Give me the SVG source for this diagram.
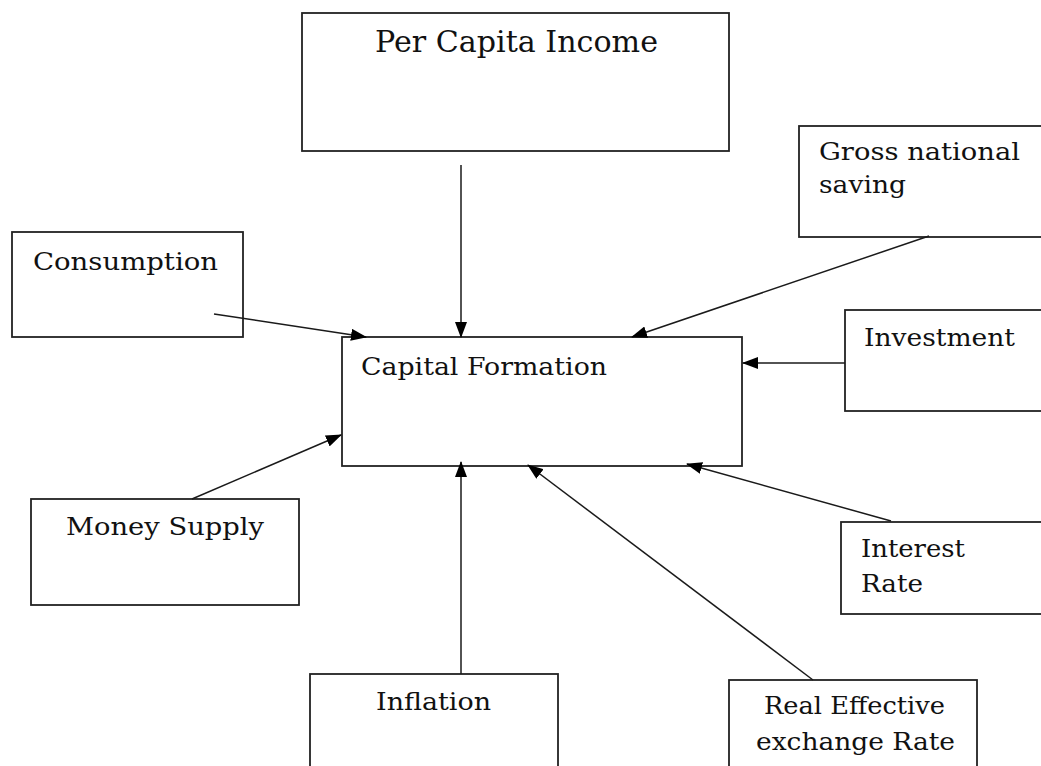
<svg xmlns="http://www.w3.org/2000/svg" width="1041" height="766" viewBox="0 0 1041 766">
<style>
.box{fill:#fff;stroke:#222;stroke-width:1.8}
.t{font-family:"DejaVu Serif","Liberation Serif",serif;font-size:25px;fill:#111}
.big{font-size:30px}
.c{stroke:#1a1a1a;stroke-width:1.5;fill:none;marker-end:url(#ah)}
</style>
<defs>
<marker id="ah" markerUnits="userSpaceOnUse" markerWidth="16" markerHeight="12" refX="15" refY="6" orient="auto">
<path d="M0,0 L16,6 L0,12 Z" fill="#000"/>
</marker>
</defs>
<rect width="1041" height="766" fill="#fff"/>
<g id="per-capita-income">
<rect class="box" x="302" y="13" width="427" height="138"/>
<text class="t big" x="375" y="52" textLength="283" lengthAdjust="spacingAndGlyphs">Per Capita Income</text>
</g>
<g id="consumption">
<rect class="box" x="12" y="232" width="231" height="105"/>
<text class="t" x="33" y="270" textLength="185" lengthAdjust="spacingAndGlyphs">Consumption</text>
</g>
<g id="capital-formation">
<rect class="box" x="342" y="337" width="400" height="129"/>
<text class="t" x="361" y="375" textLength="246" lengthAdjust="spacingAndGlyphs">Capital Formation</text>
</g>
<g id="gross-national-saving">
<rect class="box" x="799" y="126" width="250" height="111"/>
<text class="t" x="819" y="160" textLength="201" lengthAdjust="spacingAndGlyphs">Gross national</text>
<text class="t" x="819" y="193" textLength="87" lengthAdjust="spacingAndGlyphs">saving</text>
</g>
<g id="investment">
<rect class="box" x="845" y="310" width="204" height="101"/>
<text class="t" x="864" y="346" textLength="151" lengthAdjust="spacingAndGlyphs">Investment</text>
</g>
<g id="money-supply">
<rect class="box" x="31" y="499" width="268" height="106"/>
<text class="t" x="66" y="535" textLength="198" lengthAdjust="spacingAndGlyphs">Money Supply</text>
</g>
<g id="interest-rate">
<rect class="box" x="841" y="522" width="208" height="92"/>
<text class="t" x="861" y="557" textLength="104" lengthAdjust="spacingAndGlyphs">Interest</text>
<text class="t" x="861" y="592" textLength="62" lengthAdjust="spacingAndGlyphs">Rate</text>
</g>
<g id="inflation">
<rect class="box" x="310" y="674" width="248" height="100"/>
<text class="t" x="376" y="710" textLength="115" lengthAdjust="spacingAndGlyphs">Inflation</text>
</g>
<g id="real-effective-exchange-rate">
<rect class="box" x="729" y="680" width="248" height="100"/>
<text class="t" x="764" y="714" textLength="181" lengthAdjust="spacingAndGlyphs">Real Effective</text>
<text class="t" x="756" y="750" textLength="199" lengthAdjust="spacingAndGlyphs">exchange Rate</text>
</g>
<g id="connectors">
<line class="c" x1="461" y1="165" x2="461" y2="337"/>
<line class="c" x1="214" y1="314" x2="366" y2="337"/>
<line class="c" x1="929" y1="236" x2="632" y2="337"/>
<line class="c" x1="845" y1="363" x2="743" y2="363"/>
<line class="c" x1="192" y1="499" x2="341" y2="435"/>
<line class="c" x1="461" y1="674" x2="461" y2="462"/>
<line class="c" x1="813" y1="680" x2="528" y2="465"/>
<line class="c" x1="891" y1="521" x2="687" y2="464"/>
</g>
</svg>
